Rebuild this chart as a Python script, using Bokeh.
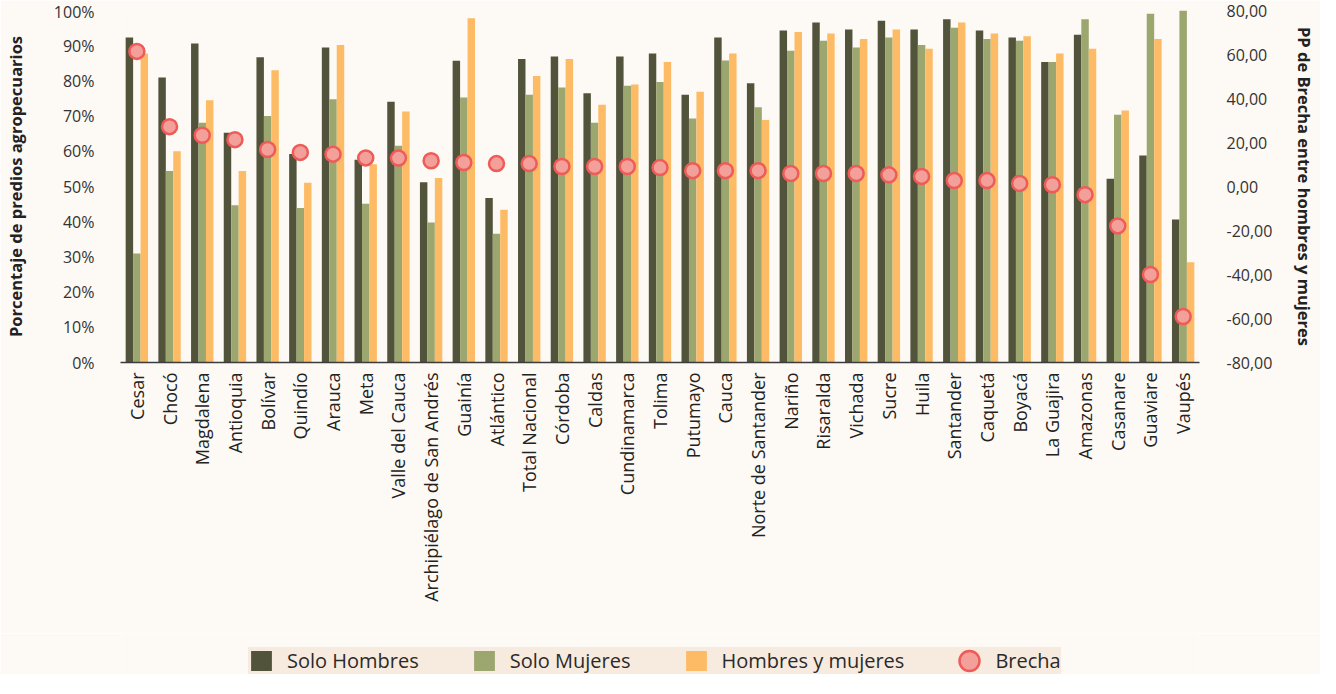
import math
from bokeh.plotting import figure
from bokeh.layouts import column
from bokeh.models import (FactorRange, Range1d, LinearAxis, FixedTicker,
                          CustomJSTickFormatter, Legend, LegendItem, ColumnDataSource)
from bokeh.transform import dodge
from bokeh.embed import file_html
from bokeh.resources import INLINE

categorias = ["Cesar", "Chocó", "Magdalena", "Antioquia", "Bolívar", "Quindío", "Arauca", "Meta",
              "Valle del Cauca", "Archipiélago de San Andrés", "Guainía", "Atlántico",
              "Total Nacional", "Córdoba", "Caldas", "Cundinamarca", "Tolima", "Putumayo",
              "Cauca", "Norte de Santander", "Nariño", "Risaralda", "Vichada", "Sucre", "Huila",
              "Santander", "Caquetá", "Boyacá", "La Guajira", "Amazonas", "Casanare",
              "Guaviare", "Vaupés"]

solo_hombres = [92.3, 81.0, 90.6, 65.3, 86.7, 59.2, 89.5, 57.6, 74.1, 51.2, 85.7, 46.7,
                86.2, 86.9, 76.5, 86.9, 87.8, 76.1, 92.3, 79.3, 94.3, 96.6, 94.6, 97.1, 94.6,
                97.5, 94.3, 92.3, 85.4, 93.1, 52.2, 58.8, 40.6]
solo_mujeres = [31.0, 54.4, 68.1, 44.7, 70.0, 43.9, 74.8, 45.1, 61.6, 39.8, 75.3, 36.6,
                76.1, 78.1, 68.1, 78.6, 79.7, 69.3, 85.8, 72.5, 88.6, 91.4, 89.5, 92.3, 90.2,
                95.1, 91.9, 91.4, 85.4, 97.5, 70.4, 99.1, 100.0]
hombres_y_mujeres = [87.8, 60.0, 74.5, 54.4, 83.0, 51.1, 90.2, 56.3, 71.3, 52.4, 97.8, 43.4,
                     81.4, 86.2, 73.2, 79.0, 85.4, 76.9, 87.8, 68.9, 93.9, 93.5, 91.9, 94.6, 89.1,
                     96.6, 93.5, 92.7, 87.8, 89.1, 71.6, 91.9, 28.5]
brecha = [61.4, 27.2, 23.3, 21.3, 16.8, 15.5, 14.7, 13.0, 12.9, 11.7, 10.9, 10.4,
          10.4, 9.1, 9.1, 9.1, 8.6, 7.2, 7.2, 7.2, 5.9, 5.9, 5.9, 5.3, 4.6,
          2.7, 2.7, 1.4, 0.8, -3.7, -17.9, -40.0, -59.1]

ticks_izq = [0, 10, 20, 30, 40, 50, 60, 70, 80, 90, 100]
ticks_der = [-80, -60, -40, -20, 0, 20, 40, 60, 80]

BG = "#FDF9F4"
C_H = "#52533B"
C_M = "#9CA66F"
C_A = "#FDBB66"
C_B_FILL = "#F4A09A"
C_B_LINE = "#EE5B58"
TXT = "#333333"

src = ColumnDataSource(dict(cat=categorias, h=solo_hombres, m=solo_mujeres,
                            a=hombres_y_mujeres, b=brecha))

bw = 0.228


def draw_series(fig, y_extra, bars_visible=True):
    r1 = fig.vbar(x=dodge("cat", -bw, range=fig.x_range), top="h", width=bw, source=src,
                  fill_color=C_H, line_color=None, visible=bars_visible)
    r2 = fig.vbar(x=dodge("cat", 0, range=fig.x_range), top="m", width=bw, source=src,
                  fill_color=C_M, line_color=None, visible=bars_visible)
    r3 = fig.vbar(x=dodge("cat", bw, range=fig.x_range), top="a", width=bw, source=src,
                  fill_color=C_A, line_color=None, visible=bars_visible)
    r4 = fig.ellipse(x="cat", y="b", width=15, height=15, width_units="screen",
                     height_units="screen", y_range_name=y_extra, source=src,
                     fill_color=C_B_FILL, line_color=C_B_LINE, line_width=2.5)
    return r1, r2, r3, r4


p = figure(x_range=FactorRange(*categorias), y_range=Range1d(0, 100),
           width=1320, height=633, output_backend="svg", toolbar_location=None,
           min_border_left=115, min_border_right=121, min_border_top=10,
           min_border_bottom=271, background_fill_color=BG, border_fill_color=BG,
           outline_line_color=None)
p.extra_y_ranges = {"brecha": Range1d(-80, 80)}
draw_series(p, "brecha")

p.xgrid.visible = False
p.ygrid.visible = False

# left axis
ya = p.yaxis[0]
ya.ticker = FixedTicker(ticks=ticks_izq)
ya.formatter = CustomJSTickFormatter(code="return tick.toFixed(0) + '%';")
ya.axis_line_color = None
ya.major_tick_line_color = None
ya.major_tick_out = 0
ya.minor_tick_line_color = None
ya.minor_tick_out = 0
ya.major_label_standoff = 26
ya.major_label_text_font = "Open Sans"
ya.major_label_text_font_size = "16px"
ya.major_label_text_color = TXT
ya.axis_label = "Porcentaje de predios agropecuarios"
ya.axis_label_text_font = "Open Sans"
ya.axis_label_text_font_style = "bold"
ya.axis_label_text_font_size = "16.5px"
ya.axis_label_text_color = "#222222"
ya.axis_label_standoff = 24

# right axis
yr = LinearAxis(y_range_name="brecha", ticker=FixedTicker(ticks=ticks_der),
                formatter=CustomJSTickFormatter(code="return tick.toFixed(2).replace('.', ',');"))
yr.axis_line_color = None
yr.major_tick_line_color = None
yr.major_tick_out = 0
yr.minor_tick_line_color = None
yr.minor_tick_out = 0
yr.major_label_standoff = 27
yr.major_label_text_font = "Open Sans"
yr.major_label_text_font_size = "16px"
yr.major_label_text_color = TXT
yr.axis_label = "PP de Brecha entre hombres y mujeres"
yr.axis_label_text_font = "Open Sans"
yr.axis_label_text_font_style = "bold"
yr.axis_label_text_font_size = "16.5px"
yr.axis_label_text_color = "#222222"
yr.axis_label_standoff = 18
p.add_layout(yr, "right")

# x axis
xa = p.xaxis[0]
xa.major_label_orientation = math.pi / 2
xa.major_tick_line_color = None
xa.major_tick_out = 0
xa.minor_tick_line_color = None
xa.minor_tick_out = 0
xa.axis_line_color = "#3C3C3C"
xa.axis_line_width = 1.5
xa.major_label_standoff = 10
xa.major_label_text_font = "Open Sans"
xa.major_label_text_font_size = "18px"
xa.major_label_text_color = "#222222"

# legend strip: same series; bars hidden, circles kept far outside its ranges
p2 = figure(x_range=p.x_range, y_range=Range1d(0, 100),
            width=1320, height=41, output_backend="svg", toolbar_location=None,
            min_border_left=115, min_border_right=121, min_border_top=0,
            min_border_bottom=0, x_axis_location=None, y_axis_location=None,
            background_fill_color=BG, border_fill_color=BG, outline_line_color=None)
p2.extra_y_ranges = {"lejos": Range1d(5000, 5001)}
p2.xgrid.visible = False
p2.ygrid.visible = False
l1, l2, l3, l4 = draw_series(p2, "lejos", bars_visible=False)

legend = Legend(items=[LegendItem(label="Solo Hombres", renderers=[l1]),
                       LegendItem(label="Solo Mujeres", renderers=[l2]),
                       LegendItem(label="Hombres y mujeres", renderers=[l3]),
                       LegendItem(label="Brecha", renderers=[l4])],
                orientation="horizontal", location=(128, 0),
                background_fill_color="#F7EADF", background_fill_alpha=1,
                border_line_color=None, glyph_width=26, glyph_height=25,
                label_text_font="Open Sans", label_text_font_size="20px",
                label_text_color="#2A2A2A", padding=8, spacing=52,
                label_standoff=13, margin=0, inactive_fill_alpha=0)
p2.add_layout(legend)

open("out.html", "w").write(file_html(column(p, p2, spacing=0), INLINE))
